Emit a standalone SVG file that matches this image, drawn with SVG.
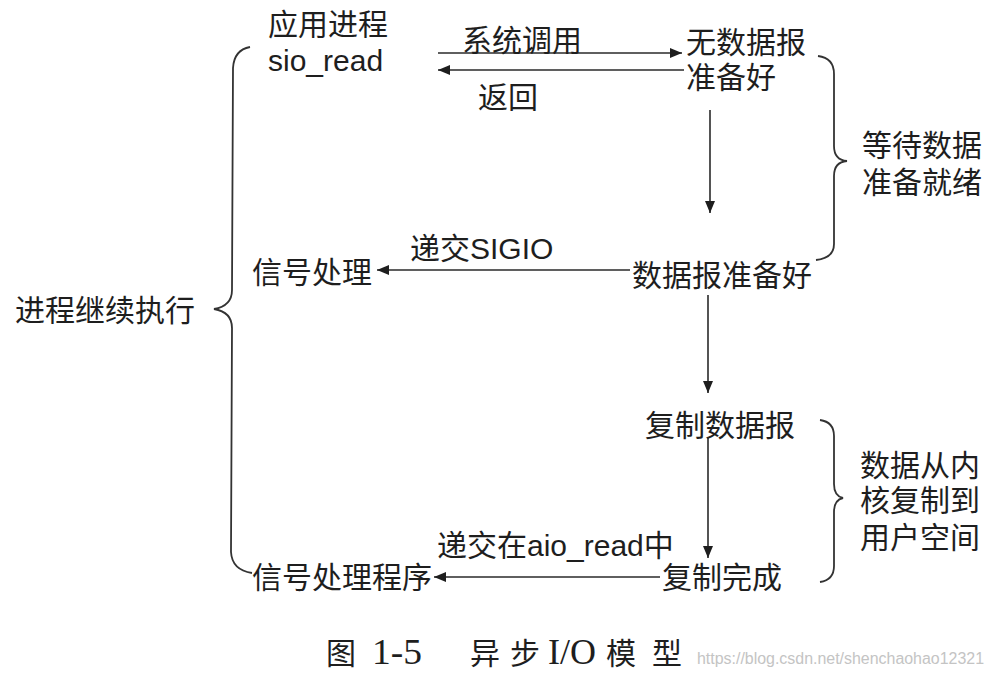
<svg xmlns="http://www.w3.org/2000/svg" width="990" height="676" viewBox="0 0 990 676">
<style>
.t{font-family:"Liberation Sans","Noto Sans CJK SC",sans-serif;font-size:30px;fill:#1e1e1e}
.cap{font-family:"Liberation Serif","Noto Sans CJK SC",serif;font-size:30px;fill:#1e1e1e}
.lat{font-size:36px}
.wm{font-family:"Liberation Sans",sans-serif;font-size:16px;fill:#c4c4c4}
.ln{stroke:#2a2a2a;stroke-width:1.6;fill:none}
.br{stroke:#333;stroke-width:1.8;fill:none}
</style>
<defs>
<marker id="ah" viewBox="0 0 12 10" refX="12" refY="5" markerWidth="12" markerHeight="10" markerUnits="userSpaceOnUse" orient="auto">
<path d="M0,0 L12,5 L0,10 Z" fill="#1e1e1e"/>
</marker>
</defs>
<rect width="990" height="676" fill="#fff"/>
<g id="app"><text class="t" x="268" y="35">应用进程</text><text class="t" x="268" y="71">sio_read</text></g>
<g id="nodata"><text class="t" x="686" y="53">无数据报</text><text class="t" x="686" y="88">准备好</text></g>
<g id="ready"><text class="t" x="632" y="286">数据报准备好</text></g>
<g id="sig"><text class="t" x="252" y="283">信号处理</text></g>
<g id="copy"><text class="t" x="645" y="436">复制数据报</text></g>
<g id="done"><text class="t" x="662" y="588">复制完成</text></g>
<g id="handler"><text class="t" x="252" y="588">信号处理程序</text></g>
<g id="cont"><text class="t" x="15" y="321">进程继续执行</text></g>
<g id="wait"><text class="t" x="862" y="156">等待数据</text><text class="t" x="862" y="193">准备就绪</text></g>
<g id="kernel"><text class="t" x="860" y="476">数据从内</text><text class="t" x="860" y="511">核复制到</text><text class="t" x="860" y="548">用户空间</text></g>
<g id="connectors">
<line class="ln" x1="438" y1="53" x2="682" y2="53" marker-end="url(#ah)"/>
<text class="t" x="462" y="51">系统调用</text>
<line class="ln" x1="684" y1="70" x2="438" y2="70" marker-end="url(#ah)"/>
<text class="t" x="478" y="108">返回</text>
<line class="ln" x1="710" y1="110" x2="710" y2="213" marker-end="url(#ah)"/>
<line class="ln" x1="630" y1="270" x2="377" y2="270" marker-end="url(#ah)"/>
<text class="t" x="410" y="259">递交SIGIO</text>
<line class="ln" x1="708" y1="295" x2="708" y2="393" marker-end="url(#ah)"/>
<line class="ln" x1="708" y1="437" x2="708" y2="558" marker-end="url(#ah)"/>
<line class="ln" x1="660" y1="577" x2="434" y2="577" marker-end="url(#ah)"/>
<text class="t" x="437" y="556">递交在aio_read中</text>
</g>
<g id="braces">
<path class="br" d="M818,56 Q834,58 834,74 L834,146 Q834,160 847,161 Q834,162 834,176 L834,244 Q834,258 816,260"/>
<path class="br" d="M820,420 Q834,422 834,436 L834,484 Q834,496 843,498 Q834,500 834,512 L834,566 Q834,580 820,582"/>
<path class="br" d="M250,47 Q234,50 233,68 L232,290 Q232,306 214,309 Q232,312 232,328 L231,552 Q232,570 252,573"/>
</g>
<g id="caption"><text class="cap" y="664"><tspan x="326">图</tspan><tspan class="lat" x="372" textLength="50" lengthAdjust="spacingAndGlyphs">1-5</tspan><tspan x="470">异</tspan><tspan x="510">步</tspan><tspan class="lat" x="548">I/O</tspan><tspan x="606">模</tspan><tspan x="652">型</tspan></text>
<text class="wm" x="697" y="664" textLength="287" lengthAdjust="spacingAndGlyphs">https://blog.csdn.net/shenchaohao12321</text></g>
</svg>
